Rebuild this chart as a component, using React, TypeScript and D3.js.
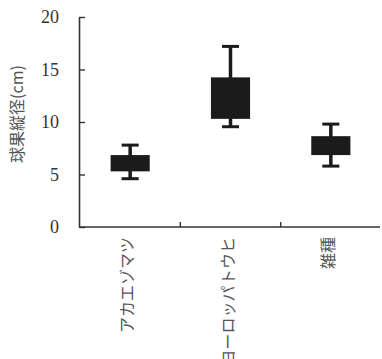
import React, { useEffect, useRef } from "react";
import * as d3 from "d3";

const categories = ["アカエゾマツ", "ヨーロッパトウヒ", "雑種"];
const whiskerLow = [4.6, 9.55, 5.8];
const boxLow = [5.3, 10.3, 6.85];
const boxHigh = [6.85, 14.25, 8.65];
const whiskerHigh = [7.8, 17.2, 9.8];
const yTicks = [0, 5, 10, 15, 20];

const W = 382;
const H = 359;
const ink = "#1b1b1b";

const App = () => {
  const ref = useRef<SVGSVGElement>(null);

  useEffect(() => {
    const svg = d3.select(ref.current);
    svg.selectAll("*").remove();

    const x = d3.scaleBand().domain(categories).range([79, 380]);
    const y = d3.scaleLinear().domain([0, 20]).range([227, 17]);
    const boxW = x.bandwidth() * 0.39;
    const capW = x.bandwidth() * 0.17;

    const rows = categories.map((c, i) => ({
      c,
      wl: whiskerLow[i],
      bl: boxLow[i],
      bh: boxHigh[i],
      wh: whiskerHigh[i],
    }));

    const g = svg.append("g");
    const item = g.selectAll("g.item").data(rows).enter().append("g")
      .attr("transform", (d) => `translate(${x(d.c)! + x.bandwidth() / 2 + 1},0)`);

    // whisker line
    item.append("line")
      .attr("x1", 0).attr("x2", 0)
      .attr("y1", (d) => y(d.wh)).attr("y2", (d) => y(d.wl))
      .attr("stroke", ink).attr("stroke-width", 3.5);
    // caps
    item.selectAll("line.cap")
      .data((d) => [d.wh, d.wl])
      .enter().append("line")
      .attr("x1", -capW / 2).attr("x2", capW / 2)
      .attr("y1", (v) => y(v)).attr("y2", (v) => y(v))
      .attr("stroke", ink).attr("stroke-width", 3);
    // box
    item.append("rect")
      .attr("x", -boxW / 2)
      .attr("width", boxW)
      .attr("y", (d) => y(d.bh))
      .attr("height", (d) => y(d.bl) - y(d.bh))
      .attr("fill", ink);

    // y axis
    const yAxis = svg.append("g")
      .attr("transform", "translate(79,0)")
      .call(d3.axisLeft(y).tickValues(yTicks).tickSizeInner(-6).tickSizeOuter(0).tickPadding(20));
    yAxis.select(".domain").attr("stroke", "#333").attr("stroke-width", 1.6);
    yAxis.selectAll(".tick line").attr("stroke", "#333").attr("stroke-width", 1.4);
    yAxis.selectAll(".tick text")
      .attr("font-family", "'Liberation Serif', serif")
      .attr("font-size", 18)
      .attr("fill", "#333");

    // x axis
    const xAxis = svg.append("g").attr("transform", "translate(0,227)");
    xAxis.append("line")
      .attr("x1", 79).attr("x2", 380)
      .attr("stroke", "#333").attr("stroke-width", 1.6);
    xAxis.selectAll("line.tk")
      .data(categories.slice(1))
      .enter().append("line")
      .attr("x1", (c) => x(c)! + 1).attr("x2", (c) => x(c)! + 1)
      .attr("y1", 0).attr("y2", -5)
      .attr("stroke", "#333").attr("stroke-width", 1.4);
    xAxis.selectAll("text")
      .data(categories)
      .enter().append("text")
      .attr("transform", (c) => `translate(${x(c)! + x.bandwidth() / 2 - 3},10) rotate(-90)`)
      .attr("text-anchor", "end")
      .attr("dominant-baseline", "central")
      .attr("font-family", "'Noto Sans CJK JP', sans-serif")
      .attr("font-size", 16)
      .attr("fill", "#555")
      .text((c) => c);

    // y title
    svg.append("text")
      .attr("transform", "translate(16,114) rotate(-90)")
      .attr("text-anchor", "middle")
      .attr("dominant-baseline", "central")
      .attr("font-family", "'Noto Sans CJK JP', sans-serif")
      .attr("font-size", 16)
      .attr("fill", "#555")
      .text("球果縦径(cm)");
  }, []);

  return (
    <svg
      ref={ref}
      width={W}
      height={H}
      style={{ position: "absolute", left: 0, top: 0, background: "#fff" }}
    />
  );
};

export default App;
